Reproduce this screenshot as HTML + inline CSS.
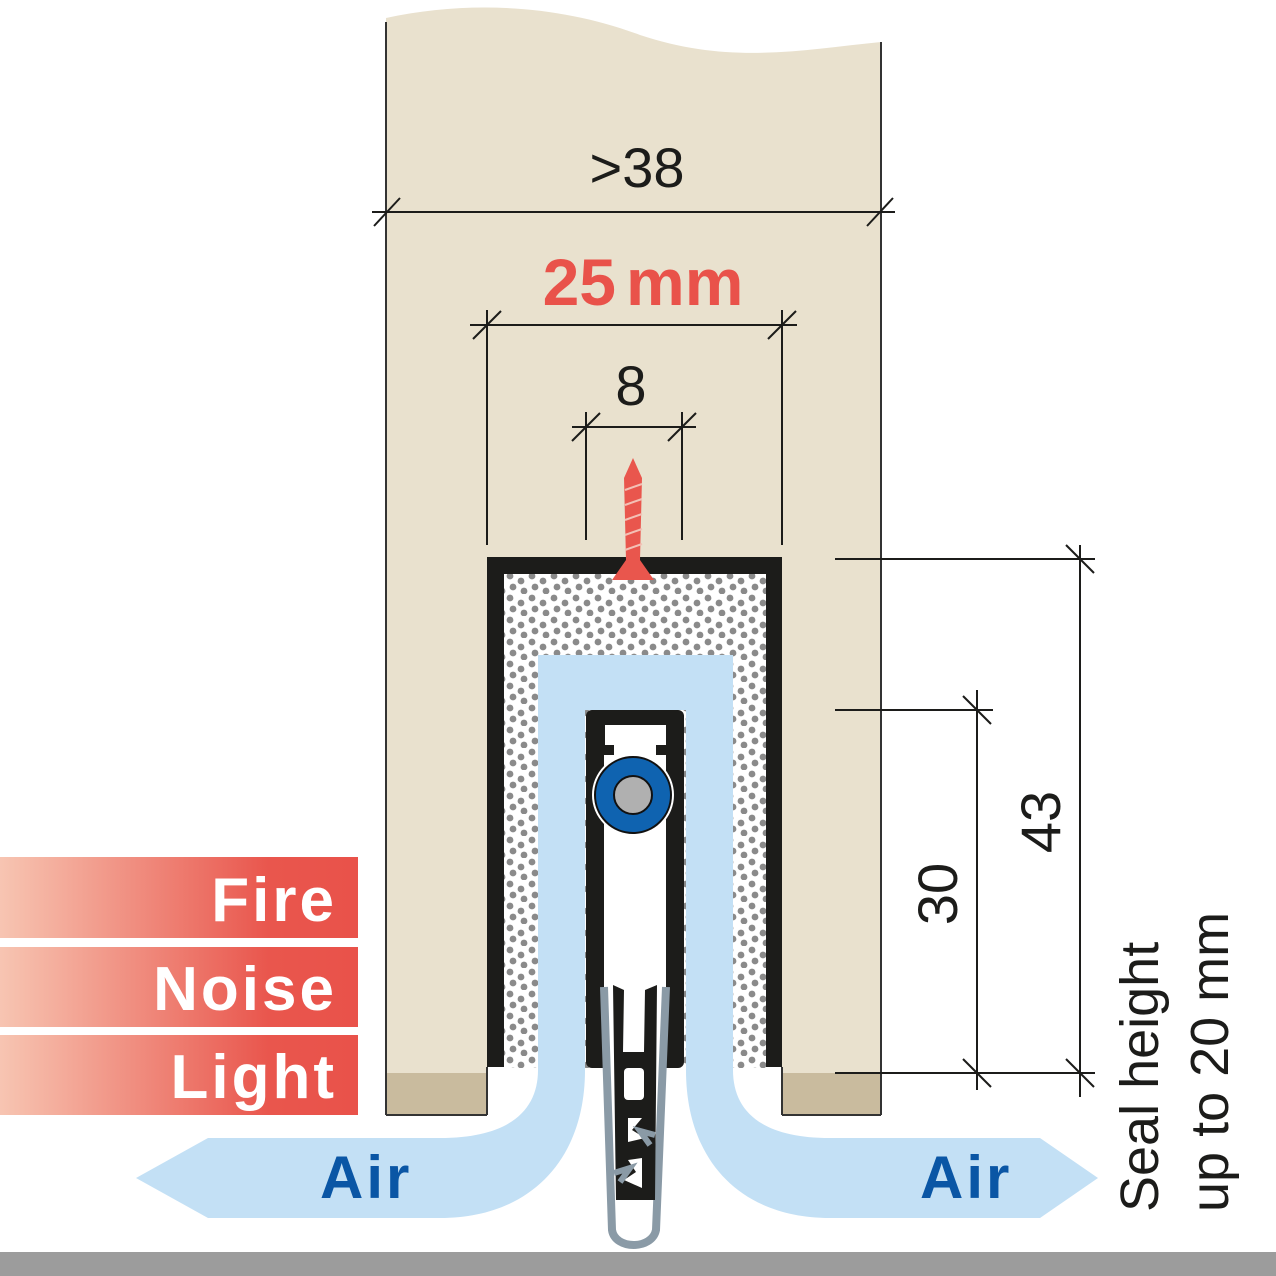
<!DOCTYPE html>
<html><head><meta charset="utf-8"><style>
html,body{margin:0;padding:0;background:#fff}
svg{display:block}
text{font-family:"Liberation Sans",sans-serif}
</style></head><body>
<svg width="1276" height="1276" viewBox="0 0 1276 1276" xmlns="http://www.w3.org/2000/svg">
<defs>
<pattern id="dots" width="22" height="22" patternUnits="userSpaceOnUse">
<rect width="22" height="22" fill="#fff"/>
<circle cx="4" cy="4" r="3.4" fill="#8a8a8a"/>
<circle cx="15" cy="9" r="3.4" fill="#8a8a8a"/>
<circle cx="7" cy="15" r="3.4" fill="#8a8a8a"/>
<circle cx="18" cy="19" r="3.4" fill="#8a8a8a"/>
</pattern>
<linearGradient id="rg" x1="0" x2="1" y1="0" y2="0">
<stop offset="0" stop-color="#f7c5b2"/>
<stop offset="0.75" stop-color="#e9564d"/>
<stop offset="1" stop-color="#e9524a"/>
</linearGradient>
</defs>
<!-- door -->
<path d="M386,18 C470,0 560,5 640,35 C730,65 800,50 881,42 L881,1115 L386,1115 Z" fill="#e9e1ce"/>
<line x1="386" y1="22" x2="386" y2="1115" stroke="#333" stroke-width="2"/>
<line x1="881" y1="42" x2="881" y2="1115" stroke="#333" stroke-width="2"/>
<rect x="387" y="1073" width="100" height="42" fill="#c9bb9e"/>
<rect x="782" y="1073" width="98" height="42" fill="#c9bb9e"/>
<line x1="386" y1="1115" x2="487" y2="1115" stroke="#333" stroke-width="2"/>
<line x1="782" y1="1115" x2="881" y2="1115" stroke="#333" stroke-width="2"/>
<!-- cutout -->
<rect x="487" y="557" width="295" height="560" fill="#fff"/>
<line x1="487" y1="1067" x2="487" y2="1115" stroke="#333" stroke-width="2"/>
<line x1="782" y1="1067" x2="782" y2="1115" stroke="#333" stroke-width="2"/>
<rect x="504" y="574" width="262" height="494" fill="url(#dots)"/>
<path d="M487,557 H782 V1067 H766 V574 H504 V1067 H487 Z" fill="#1c1c1a"/>
<!-- air path -->
<path d="M538,655 H733 V1070 C733,1110 760,1138 830,1138 H1040 L1098,1178 L1040,1218 H830 C740,1218 686,1160 686,1070 V710 H585 V1070 C585,1160 530,1218 440,1218 H208 L136,1178 L208,1138 H440 C510,1138 538,1110 538,1070 Z" fill="#c3e0f5"/>
<!-- mechanism -->
<rect x="586" y="710" width="98" height="358" rx="6" fill="#1c1c1a"/>
<path d="M605,725 H666 V745 H656 V755 H666 V1068 H604 V755 H614 V745 H605 Z" fill="#fff"/>
<circle cx="633" cy="795" r="41" fill="#fff"/>
<circle cx="633" cy="795" r="38" fill="#0f63b0" stroke="#111" stroke-width="2"/>
<circle cx="633" cy="795" r="19" fill="#b0b0b0" stroke="#111" stroke-width="2"/>
<!-- seal -->
<path d="M604,987 L612,1230 C615,1250 652,1250 656,1230 L666,987" fill="#fff" stroke="#8a9aa6" stroke-width="8"/>
<path d="M613,985 L624,990 L623,1052 L644,1052 L645,990 L657,985 L655,1200 L616,1200 Z" fill="#1c1c1a"/>
<rect x="624" y="1068" width="20" height="32" rx="4" fill="#fff"/>
<path d="M628,1118 L642,1118 L632,1130 L645,1138 L628,1142 Z" fill="#fff"/>
<path d="M642,1158 L628,1160 L636,1172 L624,1180 L642,1188 Z" fill="#fff"/>
<path d="M655,1135 L640,1131 L650,1145" fill="none" stroke="#8a9aa6" stroke-width="6"/>
<path d="M614,1173 L630,1168 L620,1182" fill="none" stroke="#8a9aa6" stroke-width="6"/>
<!-- floor -->
<rect x="0" y="1252" width="1276" height="24" fill="#9c9c9c"/>
<!-- screw -->
<path d="M633,458 L642,478 L640,560 L654,580 L612,580 L626,560 L624,478 Z" fill="#e9564d"/>
<g stroke="#f3c0b5" stroke-width="2"><line x1="625" y1="490" x2="642" y2="484"/><line x1="625" y1="505" x2="642" y2="499"/><line x1="625" y1="520" x2="642" y2="514"/><line x1="625" y1="535" x2="642" y2="529"/><line x1="625" y1="550" x2="642" y2="544"/></g>
<!-- dimensions -->
<g stroke="#1c1c1a" stroke-width="2" fill="none">
<line x1="372" y1="212" x2="895" y2="212"/>
<line x1="374" y1="226" x2="400" y2="198"/><line x1="867" y1="226" x2="893" y2="198"/>
<line x1="470" y1="325" x2="797" y2="325"/>
<line x1="487" y1="310" x2="487" y2="545"/><line x1="782" y1="310" x2="782" y2="545"/>
<line x1="473" y1="339" x2="501" y2="311"/><line x1="768" y1="339" x2="796" y2="311"/>
<line x1="572" y1="427" x2="696" y2="427"/>
<line x1="586" y1="412" x2="586" y2="540"/><line x1="682" y1="412" x2="682" y2="540"/>
<line x1="572" y1="441" x2="600" y2="413"/><line x1="668" y1="441" x2="696" y2="413"/>
<line x1="835" y1="559" x2="1095" y2="559"/>
<line x1="835" y1="710" x2="993" y2="710"/>
<line x1="835" y1="1073" x2="1095" y2="1073"/>
<line x1="1080" y1="545" x2="1080" y2="1097"/>
<line x1="977" y1="690" x2="977" y2="1090"/>
<line x1="1066" y1="545" x2="1094" y2="573"/><line x1="1066" y1="1059" x2="1094" y2="1087"/>
<line x1="963" y1="696" x2="991" y2="724"/><line x1="963" y1="1059" x2="991" y2="1087"/>
</g>
<text x="637" y="187" font-size="56" text-anchor="middle" fill="#1c1c1a">&gt;38</text>
<text x="643" y="305" font-size="66" font-weight="bold" text-anchor="middle" fill="#e9524a">25<tspan dx="10">mm</tspan></text>
<text x="631" y="405" font-size="56" text-anchor="middle" fill="#1c1c1a">8</text>
<text transform="translate(1060,822) rotate(-90)" font-size="56" text-anchor="middle" fill="#1c1c1a">43</text>
<text transform="translate(957,894) rotate(-90)" font-size="56" text-anchor="middle" fill="#1c1c1a">30</text>
<text transform="translate(1158,1212) rotate(-90)" font-size="54" fill="#1c1c1a">Seal height</text>
<text transform="translate(1228,1212) rotate(-90)" font-size="54" fill="#1c1c1a">up to 20 mm</text>
<!-- labels -->
<rect x="0" y="857" width="358" height="81" fill="url(#rg)"/>
<rect x="0" y="947" width="358" height="80" fill="url(#rg)"/>
<rect x="0" y="1035" width="358" height="80" fill="url(#rg)"/>
<g font-size="62" font-weight="bold" fill="#fff" text-anchor="end" letter-spacing="3">
<text x="337" y="921">Fire</text>
<text x="337" y="1010">Noise</text>
<text x="337" y="1098">Light</text>
</g>
<g font-size="60" font-weight="bold" fill="#0a56a5" letter-spacing="3">
<text x="320" y="1198">Air</text>
<text x="920" y="1198">Air</text>
</g>
</svg>
</body></html>
